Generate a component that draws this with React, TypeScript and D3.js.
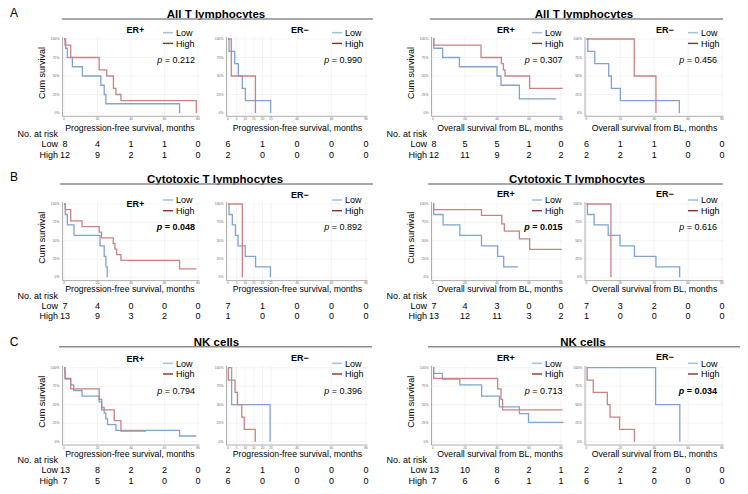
import React from 'react';
import * as d3 from 'd3';

const W = 748;
const H = 494;
const FONT = '"Liberation Sans", Arial, Helvetica, sans-serif';

// labels
const rowLetters = ['A', 'B', 'C'];
const rowTitles = ['All T lymphocytes', 'Cytotoxic T lymphocytes', 'NK cells'];
const erLabels = ['ER+', 'ER−', 'ER+', 'ER−'];
const xTitles = [
  'Progression-free survival, months',
  'Progression-free survival, months',
  'Overall survival from BL, months',
  'Overall survival from BL, months',
];
const xTicks = [0, 20, 40, 60, 80];
const xTicksShortPfs = [0, 5, 10, 15, 20, 25, 40, 60, 80];
const yTicks = [0, 0.25, 0.5, 0.75, 1];
const yTickLabels = ['0%', '25%', '50%', '75%', '100%'];
const riskTimes = [0, 20, 40, 60, 80];

// curves: [month, survival] step points, last point = end of line
// A - All T lymphocytes
const aPfsPosLow = [[0, 1], [1, 0.875], [2, 0.75], [5, 0.625], [11, 0.5], [22, 0.375], [24, 0.25], [25, 0.125], [69, 0]];
const aPfsPosHigh = [[0, 1], [0.6, 0.917], [4, 0.75], [21, 0.583], [25.5, 0.5], [29.5, 0.333], [31, 0.25], [34, 0.167], [79, 0]];
const aPfsNegLow = [[0, 1], [0.6, 0.833], [3.9, 0.667], [6, 0.5], [8.3, 0.333], [10.1, 0.167], [24.7, 0]];
const aPfsNegHigh = [[0, 1], [1.9, 0.5], [15.9, 0]];
const aOsPosLow = [[0, 1], [0.5, 0.875], [6, 0.75], [16.5, 0.625], [40, 0.5], [42.5, 0.375], [54, 0.19], [77, 0.19]];
const aOsPosHigh = [[0, 1], [0.5, 0.917], [30, 0.75], [42.7, 0.667], [44, 0.583], [45, 0.5], [60.4, 0.333], [81, 0.333]];
const aOsNegLow = [[0, 1], [0.8, 0.833], [4.9, 0.667], [13.1, 0.5], [14.7, 0.333], [20, 0.167], [54.8, 0]];
const aOsNegHigh = [[0, 1], [28.2, 0.5], [41, 0]];

// B - Cytotoxic T lymphocytes
const bPfsPosLow = [[0, 1], [0.8, 0.857], [2, 0.714], [6, 0.571], [21.5, 0.429], [24, 0.286], [25, 0.143], [25.8, 0]];
const bPfsPosHigh = [[0, 1], [0.8, 0.923], [4, 0.769], [10.8, 0.692], [21, 0.615], [22.4, 0.538], [29.4, 0.462], [30.4, 0.385], [31.4, 0.308], [34, 0.231], [69, 0.115], [79, 0.115]];
const bPfsNegLow = [[0, 1], [0.6, 0.857], [2.5, 0.714], [4.3, 0.571], [5.8, 0.429], [10, 0.286], [16, 0.143], [24.6, 0]];
const bPfsNegHigh = [[0, 1], [8.3, 0]];
const bOsPosLow = [[0, 1], [0.4, 0.857], [6.3, 0.714], [16.8, 0.571], [30.3, 0.429], [40.4, 0.286], [44.2, 0.143], [53, 0.143]];
const bOsPosHigh = [[0, 1], [0.4, 0.923], [30.3, 0.846], [43, 0.73], [44.6, 0.63], [54, 0.525], [60.4, 0.38], [80.5, 0.38]];
const bOsNegLow = [[0, 1], [0.6, 0.857], [4.5, 0.714], [12.8, 0.571], [19.8, 0.429], [28.3, 0.286], [41, 0.143], [55, 0]];
const bOsNegHigh = [[0, 1], [14.4, 0]];

// C - NK cells
const cPfsPosLow = [[0, 1], [0.5, 0.923], [0.8, 0.846], [4, 0.769], [5.8, 0.692], [10.8, 0.615], [21, 0.538], [22.5, 0.462], [24, 0.385], [25, 0.308], [26, 0.231], [31, 0.154], [69, 0.077], [79, 0.077]];
const cPfsPosHigh = [[0, 1], [0.6, 0.857], [4, 0.714], [21, 0.571], [22.5, 0.429], [30, 0.286], [34, 0.143], [49, 0.143]];
const cPfsNegLow = [[0, 1], [2.1, 0.5], [24.4, 0]];
const cPfsNegHigh = [[0, 1], [0.2, 0.833], [4.1, 0.667], [5.5, 0.5], [8, 0.333], [9.4, 0.167], [15.8, 0]];
const cOsPosLow = [[0, 1], [0.4, 0.923], [5.9, 0.846], [16.8, 0.769], [30.4, 0.615], [41.5, 0.47], [54, 0.38], [59.7, 0.26], [81.5, 0.26]];
const cOsPosHigh = [[0, 1], [0.4, 0.857], [40.4, 0.714], [42.5, 0.571], [43.5, 0.429], [81, 0.429]];
const cOsNegLow = [[0, 1], [40.8, 0.5], [55.1, 0]];
const cOsNegHigh = [[0, 1], [0.4, 0.833], [4, 0.667], [12.3, 0.5], [13.9, 0.333], [19.5, 0.167], [28.3, 0]];

// numbers at risk (months 0, 20, 40, 60, 80)
const aRiskLow = [[8, 4, 1, 1, 0], [6, 1, 0, 0, 0], [8, 5, 5, 1, 0], [6, 1, 1, 0, 0]];
const aRiskHigh = [[12, 9, 2, 1, 0], [2, 0, 0, 0, 0], [12, 11, 9, 2, 2], [2, 2, 1, 0, 0]];
const bRiskLow = [[7, 4, 0, 0, 0], [7, 1, 0, 0, 0], [7, 4, 3, 0, 0], [7, 3, 2, 0, 0]];
const bRiskHigh = [[13, 9, 3, 2, 0], [1, 0, 0, 0, 0], [13, 12, 11, 3, 2], [1, 0, 0, 0, 0]];
const cRiskLow = [[13, 8, 2, 2, 0], [2, 1, 0, 0, 0], [13, 10, 8, 2, 1], [2, 2, 2, 0, 0]];
const cRiskHigh = [[7, 5, 1, 0, 0], [6, 0, 0, 0, 0], [7, 6, 6, 1, 1], [6, 1, 0, 0, 0]];

// log-rank p values
const aP = ['0.212', '0.990', '0.307', '0.456'];
const bP = ['0.048', '0.892', '0.015', '0.616'];
const cP = ['0.794', '0.396', '0.713', '0.034'];
const sigLevel = 0.05;

const curves = [
  [[aPfsPosLow, aPfsPosHigh], [aPfsNegLow, aPfsNegHigh], [aOsPosLow, aOsPosHigh], [aOsNegLow, aOsNegHigh]],
  [[bPfsPosLow, bPfsPosHigh], [bPfsNegLow, bPfsNegHigh], [bOsPosLow, bOsPosHigh], [bOsNegLow, bOsNegHigh]],
  [[cPfsPosLow, cPfsPosHigh], [cPfsNegLow, cPfsNegHigh], [cOsPosLow, cOsPosHigh], [cOsNegLow, cOsNegHigh]],
];
const risks = [[aRiskLow, aRiskHigh], [bRiskLow, bRiskHigh], [cRiskLow, cRiskHigh]];
const pvals = [aP, bP, cP];

const LOW = '#7fa4d0';
const HIGH = '#c98383';
const LOW_KEY = '#a6c2e2';
const HIGH_KEY = '#922d2d';

// layout
const rows = [
  { top: 39, bottom: 113, letterY: 13, titleY: 13.5, lineY: 19, er: [29.3, 29.3, 29.3, 29.3], legY: 32.7, pY: 60, xlabY: 127.5, narY: 133.3, lowY: 144, highY: 155,
    titleX: [216, 584], lineX: [[62, 373], [430, 723]] },
  { top: 204, bottom: 277.3, letterY: 177, titleY: 178.5, lineY: 184, er: [203.3, 195, 193.3, 193.3], legY: 200, pY: 226.7, xlabY: 289, narY: 295.5, lowY: 305.3, highY: 315.8,
    titleX: [215, 577], lineX: [[60, 373], [428, 723]] },
  { top: 367.7, bottom: 441.7, letterY: 342, titleY: 342, lineY: 346.7, er: [358.3, 357.7, 357.7, 356.7], legY: 363.3, pY: 390.7, xlabY: 454, narY: 459.5, lowY: 470, highY: 480.7,
    titleX: [216.5, 583], lineX: [[59, 372], [428, 740]] },
];
const cols = [
  { x0: 64, x1: 198, erX: 135.5, legX: 163, pRight: 195, xlabX: 130, ticks: xTicks },
  { x0: 228, x1: 366, erX: 300, legX: 332, pRight: 362, xlabX: 297.5, ticks: xTicksShortPfs },
  { x0: 433, x1: 561, erX: 506, legX: 532, pRight: 562.5, xlabX: 500, ticks: xTicks },
  { x0: 586.5, x1: 722, erX: 665, legX: 688, pRight: 717, xlabX: 654.5, ticks: xTicks },
];

function Panel({ ri, ci }: { ri: number; ci: number }) {
  const r = rows[ri];
  const c = cols[ci];
  const x = d3.scaleLinear().domain([0, 80]).range([c.x0, c.x1]);
  const y = d3.scaleLinear().domain([0, 1]).range([r.bottom, r.top]);
  const line = d3.line<number[]>().x(d => x(d[0])).y(d => y(d[1])).curve(d3.curveStepAfter);
  const [low, high] = curves[ri][ci];
  const riskLow = risks[ri][0][ci];
  const riskHigh = risks[ri][1][ci];
  const p = pvals[ri][ci];
  const bold = +p < sigLevel;
  const axL = c.x0 - 1.5;
  const axR = c.x1 + 1.5;
  const axT = r.top - 2;
  const axB = r.bottom + 3.3;
  const showLabels = ci === 0 || ci === 2;
  const fs = 9;
  return (
    <g>
      {yTicks.map(t => (
        <line key={'gy' + t} x1={axL} x2={axR} y1={y(t)} y2={y(t)} stroke="#ededed" strokeWidth={0.6} />
      ))}
      {c.ticks.map(t => (
        <line key={'gx' + t} x1={x(t)} x2={x(t)} y1={axT} y2={axB} stroke="#ededed" strokeWidth={0.6} />
      ))}
      <line x1={axL} x2={axL} y1={axT} y2={axB} stroke="#9a9a9a" strokeWidth={0.8} />
      <line x1={axL} x2={axR} y1={axB} y2={axB} stroke="#9a9a9a" strokeWidth={0.8} />
      {yTicks.map((t, i) => (
        <text key={'ty' + t} x={axL - 3} y={y(t) + 1.1} fontSize={3.4} textAnchor="end" fill="#666">{yTickLabels[i]}</text>
      ))}
      {c.ticks.map(t => (
        <text key={'tx' + t} x={x(t)} y={axB + 3.6} fontSize={3.2} textAnchor="middle" fill="#666">{t}</text>
      ))}
      <path d={line(low as any) || ''} fill="none" stroke={LOW} strokeWidth={1.3} />
      <path d={line(high as any) || ''} fill="none" stroke={HIGH} strokeWidth={1.3} />
      <text x={c.erX} y={r.er[ci] + 3.2} fontSize={9} fontWeight="bold" textAnchor="middle">{erLabels[ci]}</text>
      <line x1={c.legX} x2={c.legX + 10} y1={r.legY} y2={r.legY} stroke={LOW_KEY} strokeWidth={1.6} />
      <text x={c.legX + 13} y={r.legY + 3.2} fontSize={fs}>Low</text>
      <line x1={c.legX} x2={c.legX + 10} y1={r.legY + 10.7} y2={r.legY + 10.7} stroke={HIGH_KEY} strokeWidth={1.4} />
      <text x={c.legX + 13} y={r.legY + 10.7 + 3.2} fontSize={fs}>High</text>
      <text x={c.pRight} y={r.pY + 3.2} fontSize={fs} textAnchor="end" fontWeight={bold ? 'bold' : 'normal'}>
        <tspan fontStyle="italic">p</tspan> = {p}
      </text>
      {showLabels && (
        <text transform={`translate(${c.x0 - 19},${(r.top + r.bottom) / 2 - 3}) rotate(-90)`} fontSize={9} textAnchor="middle">Cum survival</text>
      )}
      <text x={c.xlabX} y={r.xlabY + 3.2} fontSize={8.7} textAnchor="middle">{xTitles[ci]}</text>
      {showLabels && (
        <g fontSize={fs}>
          <text x={c.x0 - 6} y={r.narY + 3.2} textAnchor="end">No. at risk</text>
          <text x={c.x0 - 6} y={r.lowY + 3.2} textAnchor="end">Low</text>
          <text x={c.x0 - 6} y={r.highY + 3.2} textAnchor="end">High</text>
        </g>
      )}
      {riskTimes.map((t, i) => (
        <g key={'r' + t} fontSize={fs} textAnchor="middle">
          <text x={x(t) + (showLabels && i === 0 ? 1 : 0)} y={r.lowY + 3.2}>{riskLow[i]}</text>
          <text x={x(t) + (showLabels && i === 0 ? 1 : 0)} y={r.highY + 3.2}>{riskHigh[i]}</text>
        </g>
      ))}
    </g>
  );
}

export default function App() {
  return (
    <svg width={W} height={H} viewBox={`0 0 ${W} ${H}`} fontFamily={FONT}
      style={{ position: 'absolute', left: 0, top: 0, background: '#fff' }}>
      <rect width={W} height={H} fill="#fff" />
      {rows.map((r, ri) => (
        <g key={ri}>
          <text x={14} y={r.letterY + 4.3} fontSize={12} textAnchor="middle">{rowLetters[ri]}</text>
          {[0, 1].map(g => (
            <g key={g}>
              <text x={r.titleX[g]} y={r.titleY + 4.2} fontSize={11.5} fontWeight="bold" textAnchor="middle">{rowTitles[ri]}</text>
              <line x1={r.lineX[g][0]} x2={r.lineX[g][1]} y1={r.lineY} y2={r.lineY} stroke="#8c8c8c" strokeWidth={1.5} />
            </g>
          ))}
          {cols.map((c, ci) => <Panel key={ci} ri={ri} ci={ci} />)}
        </g>
      ))}
    </svg>
  );
}
